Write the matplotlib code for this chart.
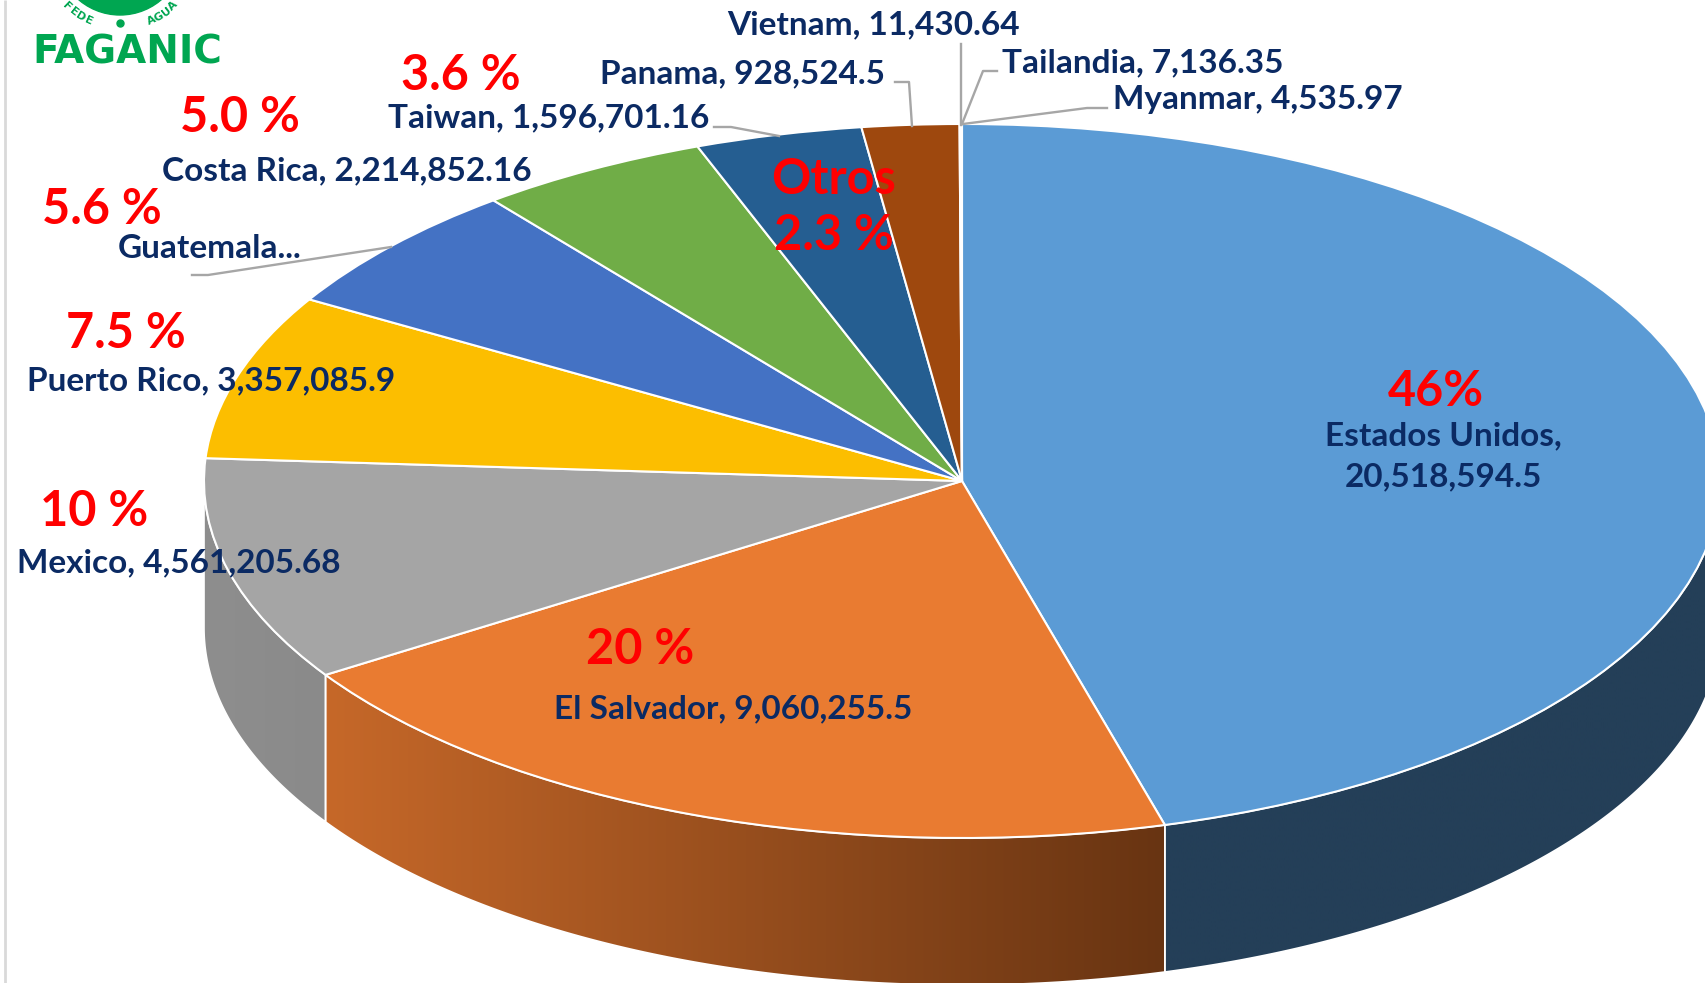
import numpy as np
import matplotlib
matplotlib.use('Agg')
from matplotlib import pyplot as plt
from matplotlib.patches import Polygon, Circle
from matplotlib.transforms import Affine2D

# Slices, clockwise from the top
countries = ['Estados Unidos', 'El Salvador', 'Mexico', 'Puerto Rico', 'Guatemala', 'Costa Rica',
             'Taiwan', 'Panama', 'Vietnam', 'Tailandia', 'Myanmar']
# Guatemala's label is cut off in the picture, so its value is estimated from the slice
values = [20518594.5, 9060255.5, 4561205.68, 3357085.9, 2650000, 2214852.16,
          1596701.16, 928524.5, 11430.64, 7136.35, 4535.97]
colors = ['#5B9BD5', '#E97B31', '#A5A5A5', '#FCBE00', '#4472C4', '#70AD47',
          '#255E91', '#9E480E', '#636363', '#997300', '#264478']

shares = ['46%', '20 %', '10 %', '7.5 %', '5.6 %', '5.0 %', '3.6 %', 'Otros', '2.3 %']

W, H = 1706, 983

# pie geometry in image pixels
CX, CY = 962, 481
RX, RY = 758, 357
DEPTH = 147

# side wall colours, left to right
side_colors = {'Estados Unidos': ('#243F58', '#243F58'),
               'El Salvador': ('#C66829', '#683412'),
               'Mexico': ('#8E8E8E', '#8A8A8A')}

fig = plt.figure(figsize=(W / 100, H / 100), dpi=100)
ax = fig.add_axes([0, 0, 1, 1])

wedges, _ = ax.pie(values, colors=colors, startangle=90, counterclock=False,
                   wedgeprops={'edgecolor': 'white', 'linewidth': 1.5})
squash = Affine2D().scale(RX, -RY).translate(CX, CY) + ax.transData
for w in wedges:
    w.set_transform(squash)
    w.set_zorder(3)


def side_wall(wedge, left, right):
    t = np.radians(np.linspace(wedge.theta1, wedge.theta2, 400))
    t = t[np.sin(t) <= 0]
    x = CX + RX * np.cos(t)
    y = CY - RY * np.sin(t)
    xy = np.vstack([np.column_stack([x, y]), np.column_stack([x, y + DEPTH])[::-1]])
    poly = Polygon(xy, closed=True, facecolor='none', edgecolor='white', linewidth=1.2, zorder=2)
    ax.add_patch(poly)
    c0 = np.array(matplotlib.colors.to_rgb(left))
    c1 = np.array(matplotlib.colors.to_rgb(right))
    grad = np.linspace(c0, c1, 256)[np.newaxis, :, :]
    im = ax.imshow(grad, extent=[x.min(), x.max(), y.max() + DEPTH, y.min()],
                   aspect='auto', zorder=1, interpolation='bilinear')
    im.set_clip_path(poly)


for name, w in zip(countries, wedges):
    if name in side_colors:
        side_wall(w, *side_colors[name])

ax.set_aspect('auto')
ax.set_xlim(0, W)
ax.set_ylim(H, 0)
ax.axis('off')

# image border on the left
ax.plot([4.7, 4.7], [0, H], color='#D9D9D9', lw=2, solid_capstyle='butt', zorder=1)

# leader lines
leaders = [[(961, 44), (961, 125)],
           [(997, 71), (983, 71), (962, 124)],
           [(1107, 108), (1087, 108), (963, 124)],
           [(895, 82), (909, 82), (912, 126)],
           [(714, 127), (731, 127), (779, 136)],
           [(192, 275), (208, 275), (391, 247)]]
for line in leaders:
    xs, ys = zip(*line)
    ax.plot(xs, ys, color='#A6A6A6', lw=1.7, zorder=4)

# data labels
navy = '#0B2A63'
label_font = {'color': navy, 'family': 'Lato', 'weight': 'bold', 'fontsize': 24,
              'ha': 'center', 'va': 'center', 'zorder': 6}
label_text = {name: f'{name}, {v:,}' for name, v in zip(countries, values)}
label_text['Guatemala'] = 'Guatemala...'
label_pos = {'Vietnam': (874, 25), 'Tailandia': (1143, 63), 'Myanmar': (1258, 100),
             'Panama': (743, 74), 'Taiwan': (549, 118), 'Costa Rica': (347, 171),
             'Guatemala': (210, 249), 'Puerto Rico': (211, 381), 'Mexico': (179, 563),
             'El Salvador': (733, 709)}
for name, (x, y) in label_pos.items():
    ax.text(x, y, label_text[name], **label_font)
ax.text(1443, 436, 'Estados Unidos,', **label_font)
ax.text(1443, 477, f'{values[0]:,}', **label_font)

# red percentages
share_pos = [(1436, 392), (640, 650), (94, 512), (126, 334), (102, 209), (240, 117),
             (461, 76), (834, 179), (834, 235)]
for s, (x, y) in zip(shares, share_pos):
    ax.text(x, y, s, color='#FF0000', family='Lato', weight='bold', fontsize=35,
            ha='center', va='center', zorder=7)

# logo
green = '#00A651'
ax.add_patch(Circle((120, -48.5), 63.5, color=green, zorder=5))
ax.add_patch(Circle((120.5, 23.5), 3.5, color=green, zorder=5))
ax.text(127, 53, 'FAGANIC', color=green, family='DejaVu Sans', weight='bold', fontsize=28,
        ha='center', va='center', zorder=5)
ring = [('F', -44), ('E', -37.5), ('D', -31), ('E', -24.5), ('A', 24.5), ('G', 31), ('U', 37.5), ('A', 44)]
for ch, phi in ring:
    p = np.radians(phi)
    ax.text(120 + 76 * np.sin(p), -48.5 + 76 * np.cos(p), ch, color=green, family='DejaVu Sans',
            weight='bold', fontsize=8, rotation=phi, ha='center', va='center',
            rotation_mode='anchor', zorder=5)

plt.savefig('out.png', dpi=100)
